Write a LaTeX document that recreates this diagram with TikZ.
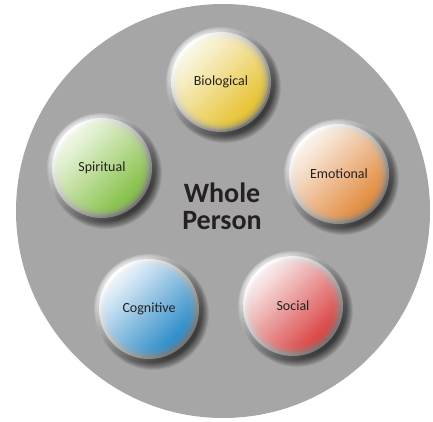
\documentclass[tikz,border=0pt]{standalone}
\usepackage{fontspec}
\setmainfont{Carlito}
\usetikzlibrary{positioning}
\definecolor{discgrey}{RGB}{166,166,166}
\definecolor{bioL}{RGB}{252,248,225}
\definecolor{bioD}{RGB}{245,204,40}
\definecolor{spiL}{RGB}{238,248,225}
\definecolor{spiD}{RGB}{135,202,66}
\definecolor{emoL}{RGB}{252,240,230}
\definecolor{emoD}{RGB}{240,142,55}
\definecolor{cogL}{RGB}{230,242,252}
\definecolor{cogD}{RGB}{35,142,210}
\definecolor{socL}{RGB}{250,232,232}
\definecolor{socD}{RGB}{230,62,62}
\definecolor{inkgrey}{RGB}{38,32,32}

\begin{document}
\begin{tikzpicture}[x=1pt,y=1pt,
  facet/.style={font=\fontsize{14}{16}\selectfont,text=inkgrey},
  centre/.style={font=\fontsize{28}{27}\selectfont\bfseries,text=inkgrey,align=center}]
  \useasboundingbox (0,0) rectangle (433,421);
  \node[circle,fill=discgrey,minimum size=414,inner sep=0] (person) at (223,210) {};
  \node[centre] (whole) at (222,215) {Whole\\Person};
  % the five balls: soft shadow, blurred rim, then the coloured face
  \foreach \name/\x/\y/\lt/\dk/\txt in
    {bio/221/339/bioL/bioD/Biological,
     spi/102/253/spiL/spiD/Spiritual,
     emo/339/247/emoL/emoD/Emotional,
     cog/149/112/cogL/cogD/Cognitive,
     soc/293/115/socL/socD/Social} {
    \foreach \s in {0,...,10}
      \fill[black,opacity=0.07] (\x+4,\y-5) circle (56-\s*0.8);
    \foreach \s in {0,...,4}
      \shade[top color=white,bottom color=gray!40!black,shading angle=45,opacity=0.25] (\x,\y) circle (55-\s);
    \shade[top color=white,bottom color=black!55,shading angle=45] (\x,\y) circle (50);
    \foreach \s in {0,...,9}
      \shade[top color=\lt,bottom color=\dk,shading angle=45,opacity=0.2] (\x,\y) circle (48-\s);
    \node[facet] (\name) at (\x,\y) {\txt};
  }
\end{tikzpicture}
\end{document}
